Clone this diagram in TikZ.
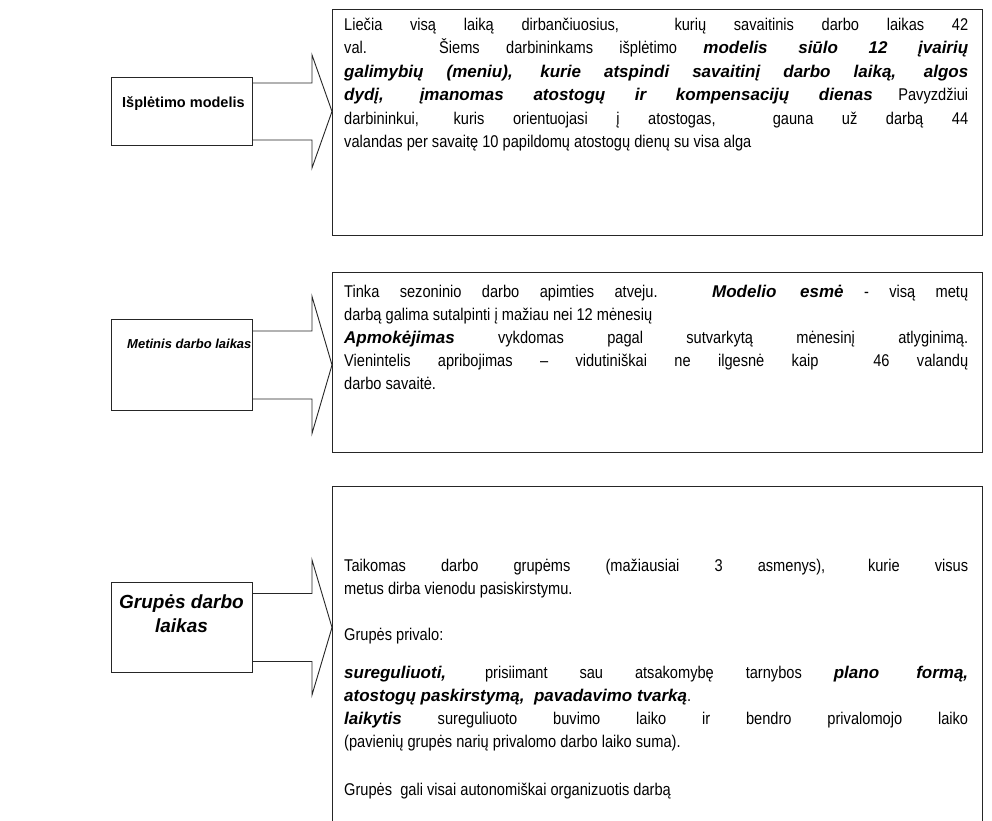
\documentclass[tikz,border=0pt]{standalone}
\usepackage{fontspec}
\setmainfont{Liberation Sans}
\newfontfamily\narrowfont[FakeStretch=0.86]{Liberation Sans}
\usetikzlibrary{calc}
\newcommand\jline[1]{\hbox to\linewidth{#1}}
\newcommand\lastline[1]{\hbox{#1}}
\newcommand\bi[1]{{\fontfamily{\familydefault}\selectfont\textbf{\textit{#1}}}}
\begin{document}
\begin{tikzpicture}[x=1pt,y=1pt,
  box/.style={draw=black!85, line width=0.9pt, inner sep=0pt},
  barrow/.style={draw=black!85, line width=0.9pt, line join=miter},
  txt/.style={anchor=base west, inner sep=0pt}]
\useasboundingbox (0,0) rectangle (992,-820);
\fill[white] (0,0) rectangle (992,-820);

% left boxes
\node[box, anchor=north west, minimum width=141, minimum height=68] (A) at (111,-77) {};
\node[box, anchor=north west, minimum width=141, minimum height=91] (C) at (111,-319) {};
\node[box, anchor=north west, minimum width=141, minimum height=90] (E) at (111,-582) {};

% right boxes
\node[box, anchor=north west, minimum width=650, minimum height=226] (B) at (332,-9) {};
\node[box, anchor=north west, minimum width=650, minimum height=180] (D) at (332,-272) {};
\node[box, anchor=north west, minimum width=650, minimum height=350] (F) at (332,-486) {};

% labels
\node[anchor=west, inner sep=0pt, font=\bfseries\fontsize{14.5}{17}\selectfont] (lA) at (122,-104) {Išplėtimo modelis};
\node[anchor=west, inner sep=0pt, font=\bfseries\itshape\fontsize{13}{15}\selectfont] (lC) at (127,-344) {Metinis darbo laikas};
\node[align=center, inner sep=0pt, font=\bfseries\itshape\fontsize{19}{24}\selectfont] (lE) at (181.5,-614) {Grupės darbo\\laikas};

% block arrows
\coordinate (tAB) at (B.west |- A.east);
\draw[barrow] ($(A.east)+(0,28.5)$) -- ($(tAB)+(-20,28.5)$) -- ($(tAB)+(-20,56.5)$) -- (tAB)
  -- ($(tAB)+(-20,-56.5)$) -- ($(tAB)+(-20,-28.5)$) -- ($(A.east)+(0,-28.5)$);
\coordinate (tCD) at (D.west |- C.east);
\draw[barrow] ($(C.east)+(0,34)$) -- ($(tCD)+(-20,34)$) -- ($(tCD)+(-20,68.5)$) -- (tCD)
  -- ($(tCD)+(-20,-68.5)$) -- ($(tCD)+(-20,-34)$) -- ($(C.east)+(0,-34)$);
\coordinate (tEF) at (F.west |- E.east);
\draw[barrow] ($(E.east)+(0,34)$) -- ($(tEF)+(-20,34)$) -- ($(tEF)+(-20,67.5)$) -- (tEF)
  -- ($(tEF)+(-20,-67.5)$) -- ($(tEF)+(-20,-34)$) -- ($(E.east)+(0,-34)$);

% texts
\node[txt] (tB) at (344,-30) {\begin{minipage}[t]{624pt}\narrowfont\fontsize{17}{23.5}\selectfont
\jline{Liečia visą laiką dirbančiuosius,\ \ kurių savaitinis darbo laikas 42}
\jline{val. Šiems darbininkams išplėtimo \bi{modelis siūlo 12 įvairių}}
\jline{\bi{galimybių (meniu), kurie atspindi savaitinį darbo laiką, algos}}
\jline{\bi{dydį, įmanomas atostogų ir kompensacijų dienas} Pavyzdžiui}
\jline{darbininkui, kuris orientuojasi į atostogas,\ \ gauna už darbą 44}
\lastline{valandas per savaitę 10 papildomų atostogų dienų su visa alga}
\end{minipage}};

\node[txt] (tD) at (344,-297) {\begin{minipage}[t]{624pt}\narrowfont\fontsize{17}{23}\selectfont
\jline{Tinka sezoninio darbo apimties atveju. \bi{Modelio esmė} - visą metų}
\lastline{darbą galima sutalpinti į mažiau nei 12 mėnesių}
\jline{\bi{Apmokėjimas} vykdomas pagal sutvarkytą mėnesinį atlyginimą.}
\jline{Vienintelis apribojimas – vidutiniškai ne ilgesnė kaip\ \ 46 valandų}
\lastline{darbo savaitė.}
\end{minipage}};

\node[txt] (tF) at (344,-571) {\begin{minipage}[t]{624pt}\narrowfont\fontsize{17}{23}\selectfont
\jline{Taikomas darbo grupėms (mažiausiai 3 asmenys), kurie visus}
\lastline{metus dirba vienodu pasiskirstymu.}
\vskip 23pt
\lastline{Grupės privalo:}
\vskip 15pt
\jline{\bi{sureguliuoti,} prisiimant sau atsakomybę tarnybos \bi{plano formą,}}
\lastline{\bi{atostogų paskirstymą,\ \ pavadavimo tvarką}.}
\jline{\bi{laikytis} sureguliuoto buvimo laiko ir bendro privalomojo laiko}
\lastline{(pavienių grupės narių privalomo darbo laiko suma).}
\vskip 25pt
\lastline{Grupės\ \ gali visai autonomiškai organizuotis darbą}
\end{minipage}};
\end{tikzpicture}
\end{document}
